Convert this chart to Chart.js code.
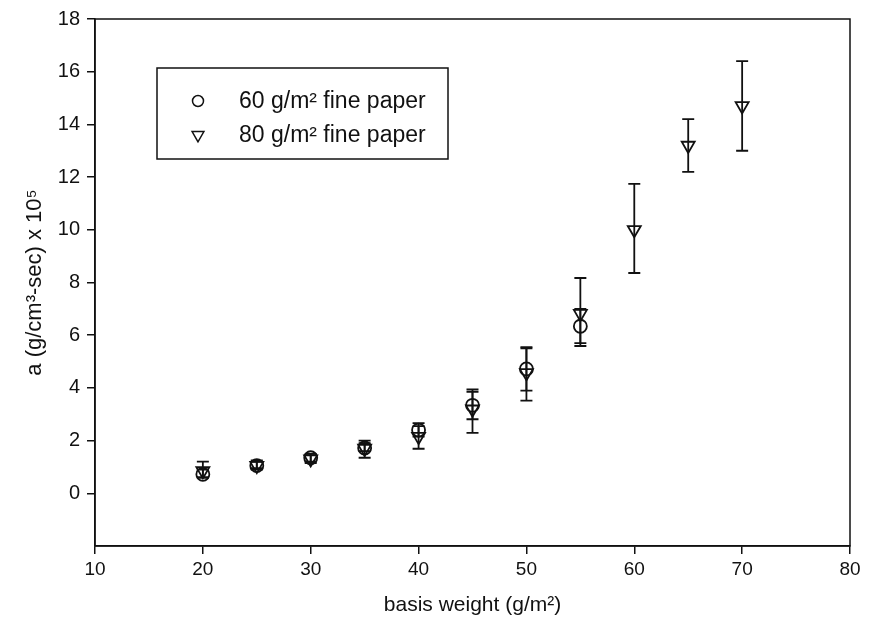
<!DOCTYPE html>
<html>
<head>
<meta charset="utf-8">
<script src="https://cdn.jsdelivr.net/npm/chart.js@4"></script>
<style>
  html, body { margin: 0; padding: 0; background: #fff; }
  #wrap { width: 869px; height: 634px; }
</style>
</head>
<body>
<div id="wrap"><canvas id="chart" width="869" height="634"></canvas></div>
<script>
  // basis weight (g/m2) and a (g/cm3-sec) x 10^5
  const weights60 = [20, 25, 30, 35, 40, 45, 50, 55];
  const a60 = [0.72, 1.05, 1.35, 1.72, 2.4, 3.34, 4.72, 6.34];
  const a60Low = [0.6, 0.95, 1.2, 1.6, 2.15, 2.81, 3.9, 5.7];
  const a60High = [0.9, 1.2, 1.5, 1.9, 2.66, 3.85, 5.5, 7.0];

  const weights80 = [20, 25, 30, 35, 40, 45, 50, 55, 60, 65, 70];
  const a80 = [0.85, 1.05, 1.3, 1.7, 2.15, 3.19, 4.57, 6.82, 10.0, 13.2, 14.7];
  const a80Low = [0.6, 0.9, 1.15, 1.35, 1.69, 2.29, 3.52, 5.59, 8.36, 12.2, 13.0];
  const a80High = [1.2, 1.25, 1.45, 2.0, 2.55, 3.94, 5.55, 8.17, 11.74, 14.2, 16.4];

  const xTicks = [10, 20, 30, 40, 50, 60, 70, 80];
  const yTicks = [0, 2, 4, 6, 8, 10, 12, 14, 16, 18];

  const seriesLabels = ['60 g/m\u00b2 fine paper', '80 g/m\u00b2 fine paper'];

  const ink = '#111';
  const fontFamily = '"Liberation Sans", Arial, sans-serif';

  function points(xs, ys) {
    return xs.map((x, i) => ({ x, y: ys[i] }));
  }

  const errorBars = {
    id: 'errorBars',
    afterDatasetsDraw(chart) {
      const { ctx, scales: { x, y } } = chart;
      ctx.save();
      ctx.strokeStyle = ink;
      ctx.lineWidth = 1.8;
      chart.data.datasets.forEach((ds) => {
        ds.data.forEach((p, i) => {
          const px = x.getPixelForValue(p.x);
          const top = y.getPixelForValue(ds.errHigh[i]);
          const bottom = y.getPixelForValue(ds.errLow[i]);
          ctx.beginPath();
          ctx.moveTo(px, top);
          ctx.lineTo(px, bottom);
          ctx.moveTo(px - 6, top);
          ctx.lineTo(px + 6, top);
          ctx.moveTo(px - 6, bottom);
          ctx.lineTo(px + 6, bottom);
          ctx.stroke();
        });
      });
      ctx.restore();
    }
  };

  const frameAndLegend = {
    id: 'frameAndLegend',
    beforeDraw(chart) {
      const { ctx } = chart;
      ctx.save();
      ctx.fillStyle = '#fff';
      ctx.fillRect(0, 0, chart.width, chart.height);
      ctx.restore();
    },
    afterDraw(chart) {
      const { ctx, chartArea: a } = chart;
      ctx.save();
      ctx.strokeStyle = ink;
      ctx.lineWidth = 1.5;
      ctx.strokeRect(a.left, a.top, a.right - a.left, a.bottom - a.top);

      // legend box inside the plot
      ctx.strokeRect(157, 68, 291, 91);
      ctx.font = '23px ' + fontFamily;
      ctx.textBaseline = 'alphabetic';
      const rows = [108, 142];
      const sizes = [5.5, 6.8];
      chart.data.datasets.forEach((ds, i) => {
        ctx.fillStyle = 'rgba(0,0,0,0)';
        ctx.lineWidth = 1.5;
        Chart.helpers.drawPoint(ctx, {
          pointStyle: ds.pointStyle,
          rotation: ds.pointRotation || 0,
          radius: sizes[i],
          borderWidth: 1.5
        }, 198, rows[i] - 7);
        ctx.fillStyle = ink;
        ctx.fillText(seriesLabels[i], 239, rows[i]);
      });
      ctx.restore();
    }
  };

  new Chart(document.getElementById('chart'), {
    type: 'scatter',
    data: {
      datasets: [
        {
          label: seriesLabels[0],
          data: points(weights60, a60),
          errLow: a60Low,
          errHigh: a60High,
          pointStyle: 'circle',
          pointRadius: 6.5,
          borderColor: ink,
          backgroundColor: 'rgba(0,0,0,0)',
          pointBorderWidth: 1.8
        },
        {
          label: seriesLabels[1],
          data: points(weights80, a80),
          errLow: a80Low,
          errHigh: a80High,
          pointStyle: 'triangle',
          pointRotation: 180,
          pointRadius: 7.5,
          borderColor: ink,
          backgroundColor: 'rgba(0,0,0,0)',
          pointBorderWidth: 1.8
        }
      ]
    },
    options: {
      responsive: false,
      animation: false,
      devicePixelRatio: 1,
      layout: { padding: { left: 0, top: 14, right: 19, bottom: 0 } },
      plugins: {
        legend: { display: false },
        tooltip: { enabled: false }
      },
      scales: {
        x: {
          type: 'linear',
          min: 10,
          max: 80,
          afterFit(scale) { scale.height = 88; },
          afterBuildTicks(scale) { scale.ticks = xTicks.map((value) => ({ value })); },
          ticks: {
            color: ink,
            padding: 4,
            font: { family: fontFamily, size: 19 }
          },
          grid: { drawOnChartArea: false, drawTicks: true, tickLength: 8, color: ink, lineWidth: 1.5 },
          border: { display: true, color: ink, width: 1.5 },
          title: {
            display: true,
            text: 'basis weight (g/m\u00b2)',
            color: ink,
            font: { family: fontFamily, size: 21 },
            padding: { top: 0, bottom: 16 }
          }
        },
        y: {
          type: 'linear',
          min: -2,
          max: 18,
          afterFit(scale) { scale.width = 95; },
          afterBuildTicks(scale) { scale.ticks = yTicks.map((value) => ({ value })); },
          ticks: {
            color: ink,
            padding: 7,
            font: { family: fontFamily, size: 20 }
          },
          grid: { drawOnChartArea: false, drawTicks: true, tickLength: 8, color: ink, lineWidth: 1.5 },
          border: { display: true, color: ink, width: 1.5 },
          title: {
            display: true,
            text: 'a (g/cm\u00b3-sec) x 10\u2075',
            color: ink,
            font: { family: fontFamily, size: 22 },
            padding: { top: 22, bottom: 0 }
          }
        }
      }
    },
    plugins: [frameAndLegend, errorBars]
  });
</script>
</body>
</html>
